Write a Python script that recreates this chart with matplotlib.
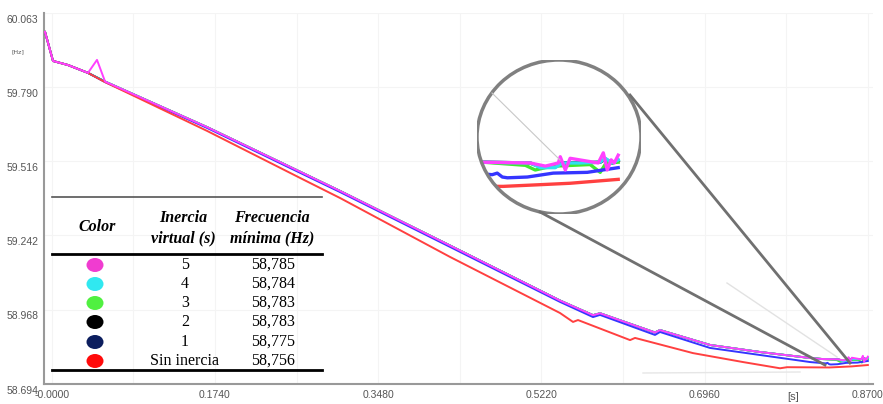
import numpy as np
import matplotlib.pyplot as plt
from matplotlib.patches import Ellipse
from matplotlib.lines import Line2D
from matplotlib.transforms import ScaledTranslation

# ---------------- datos ----------------
t_head = [-0.0072, 0.0013, 0.0173, 0.0386]
f_head = [59.993, 59.886, 59.871, 59.842]

# tramo central (curvas con inercia, practicamente superpuestas)
t_mid = [0.0568, 0.1655, 0.2649, 0.3075, 0.4245, 0.5418, 0.5770, 0.5845,
         0.6431, 0.6484, 0.7018, 0.7551, 0.8084]
f_mid = [59.810, 59.642, 59.477, 59.406, 59.205, 59.002, 58.948, 58.955,
         58.884, 58.893, 58.838, 58.812, 58.790]

# inercia 1 s
t_in1 = [0.0568, 0.1655, 0.2649, 0.3075, 0.4245, 0.5418, 0.5770, 0.5845,
         0.6431, 0.6484, 0.7018, 0.7551, 0.8084, 0.8252, 0.8270, 0.8288,
         0.8306, 0.8377, 0.8469, 0.8590, 0.8700]
f_in1 = [59.808, 59.639, 59.473, 59.402, 59.200, 58.997, 58.941, 58.949,
         58.875, 58.886, 58.827, 58.801, 58.775, 58.770, 58.772, 58.767,
         58.766, 58.767, 58.772, 58.773, 58.779]

# sin inercia
t_sin = [0.0568, 0.1655, 0.2649, 0.3075, 0.4245, 0.5418, 0.5557, 0.5610,
         0.6165, 0.6218, 0.6836, 0.7369, 0.7764, 0.7839, 0.8291, 0.8412,
         0.8529, 0.8700]
f_sin = [59.808, 59.628, 59.454, 59.380, 59.163, 58.956, 58.923, 58.930,
         58.856, 58.864, 58.808, 58.775, 58.752, 58.756, 58.755, 58.757,
         58.759, 58.764]

# colas (ultimos instantes)
t_tail5 = [0.8220, 0.8387, 0.8441, 0.8487, 0.8494, 0.8512, 0.8529, 0.8629,
           0.8647, 0.8661, 0.8675, 0.8686, 0.8700]
f_tail5 = [58.786, 58.785, 58.781, 58.785, 58.793, 58.776, 58.791, 58.785,
           58.798, 58.776, 58.789, 58.785, 58.795]
t_tail4 = [0.8220, 0.8387, 0.8423, 0.8476, 0.8501, 0.8560, 0.8636, 0.8654,
           0.8679, 0.8700]
f_tail4 = [58.786, 58.785, 58.779, 58.779, 58.785, 58.785, 58.786, 58.791,
           58.785, 58.789]
t_tail3 = [0.8220, 0.8370, 0.8405, 0.8441, 0.8476, 0.8600, 0.8636, 0.8657,
           0.8700]
f_tail3 = [58.786, 58.782, 58.776, 58.779, 58.781, 58.783, 58.773, 58.785,
           58.786]
t_tail2 = [0.8220, 0.8387, 0.8423, 0.8476, 0.8501, 0.8560, 0.8636, 0.8654,
           0.8679, 0.8700]
f_tail2 = [58.786, 58.785, 58.780, 58.780, 58.785, 58.785, 58.786, 58.790,
           58.785, 58.788]

spike_t = [0.0482]
spike_f = [59.890]

inercia = ['5', '4', '3', '2', '1', 'Sin inercia']
f_min = ['58,785', '58,784', '58,783', '58,783', '58,775', '58,756']
colores_tabla = ['#f03cd0', '#30e8f0', '#50f040', '#000000', '#0c1e5e', '#ff0a0a']

yticks = [58.694, 58.968, 59.242, 59.516, 59.790, 60.063]
xticks = [0.0, 0.174, 0.348, 0.522, 0.696, 0.870]
xtick_labels = ['-0.0000', '0.1740', '0.3480', '0.5220', '0.6960', '0.8700']

# orden de dibujo: la ultima queda encima
series = [
    ('#000000', t_head + t_mid + t_tail2, f_head + f_mid + f_tail2),
    ('#40e830', t_head + t_mid + t_tail3, f_head + f_mid + f_tail3),
    ('#30e0f0', t_head + t_mid + t_tail4, f_head + f_mid + f_tail4),
    ('#3535ff', t_head + t_in1, f_head + f_in1),
    ('#ff4040', t_head + t_sin, f_head + f_sin),
    ('#ff40ff', t_head + spike_t + t_mid + t_tail5, f_head + spike_f + f_mid + f_tail5),
]

W, H = 883, 404


def fx(x):
    return x / W


def fy(y):
    return 1 - y / H


fig = plt.figure(figsize=(8.83, 4.04), dpi=100)
ax = fig.add_axes([fx(44), fy(384), fx(873 - 44), (384 - 13) / H])

for c, t, f in series:
    ax.plot(t, f, color=c, lw=1.4, zorder=3)

ax.set_xlim(-0.0083, 0.8755)
ax.set_ylim(58.694, 60.063)
ax.set_yticks(yticks)
ax.set_yticklabels([f'{v:.3f}' for v in yticks])
ax.set_xticks(xticks)
ax.set_xticklabels(xtick_labels)
ax.set_xticks(np.arange(0.087, 0.87, 0.174), minor=True)
ax.grid(True, which='both', axis='x', color='#f4f4f4', lw=0.8)
ax.grid(True, which='major', axis='y', color='#f4f4f4', lw=0.8)
ax.tick_params(which='both', length=0, labelsize=7.5, colors='#555555', pad=4)
for lab in ax.get_xticklabels() + ax.get_yticklabels():
    lab.set_fontfamily('Liberation Sans')
for lab in ax.get_yticklabels():
    lab.set_transform(lab.get_transform() + ScaledTranslation(0, -4 / 72, fig.dpi_scale_trans))
for s in ['top', 'right']:
    ax.spines[s].set_visible(False)
for s in ['left', 'bottom']:
    ax.spines[s].set_color('#999999')
    ax.spines[s].set_linewidth(1.5)

fig.text(fx(18), fy(52), '[Hz]', fontsize=4.5, color='#555555', ha='center', va='center')
fig.text(fx(793), fy(397), '[s]', fontsize=8, color='#555555', ha='center', va='center',
         family='Liberation Sans')

# ---------------- lineas del zoom ----------------
def fline(x0, y0, x1, y1, **kw):
    fig.add_artist(Line2D([fx(x0), fx(x1)], [fy(y0), fy(y1)], transform=fig.transFigure, **kw))


fline(727, 283, 837, 357, color='#e2e2e2', lw=1, zorder=1)
fline(643, 373, 800, 372, color='#e6e6e6', lw=1, zorder=1)
fline(540, 212, 825, 365, color='#707070', lw=2, zorder=2)
fline(630, 95, 850, 363, color='#707070', lw=2, zorder=2)

# ---------------- lupa ----------------
ins = fig.add_axes([fx(477), fy(214), fx(641 - 477), (214 - 60) / H])
ins.set_xlim(0.8198, 0.8781)
ins.set_ylim(58.7196, 58.9170)
ins.axis('off')
ins.patch.set_alpha(0)
circ = Ellipse((0.5, 0.5), 1, 1, transform=ins.transAxes, facecolor='none',
               edgecolor='#808080', lw=2.5, zorder=5)
ins.add_patch(circ)
clip = Ellipse((0.5, 0.5), 1, 1, transform=ins.transAxes, facecolor='none', edgecolor='none')
ins.add_patch(clip)
for c, t, f in series:
    ln, = ins.plot(t, f, color=c, lw=2.4, zorder=3)
    ln.set_clip_path(clip)
fline(492, 93, 560, 160, color='#c8c8c8', lw=0.8, zorder=1)

# ---------------- tabla ----------------
fline(52, 197, 322, 197, color='#555555', lw=1.2, zorder=4)
fline(52, 254, 322, 254, color='#000000', lw=2, zorder=4)
fline(52, 370, 322, 370, color='#000000', lw=2, zorder=4)

hdr = dict(family='Liberation Serif', fontsize=11.5, fontweight='bold', fontstyle='italic',
           ha='center', va='center')
fig.text(fx(97), fy(227), 'Color', **hdr)
fig.text(fx(183), fy(218), 'Inercia', **hdr)
fig.text(fx(183), fy(238), 'virtual (s)', **hdr)
fig.text(fx(272), fy(218), 'Frecuencia', **hdr)
fig.text(fx(272), fy(238), 'mínima (Hz)', **hdr)

row_y = [265, 284, 303, 322, 342, 361]
for yy, col, ine, fm in zip(row_y, colores_tabla, inercia, f_min):
    fig.add_artist(Ellipse((fx(95), fy(yy)), 17 / W, 14 / H, transform=fig.transFigure,
                           facecolor=col, edgecolor='none'))
    fig.text(fx(185), fy(yy), ine, family='Liberation Serif', fontsize=11.5,
             ha='center', va='center')
    fig.text(fx(273), fy(yy), fm, family='Liberation Serif', fontsize=11.5,
             ha='center', va='center')

fig.savefig('out.png', dpi=100)
